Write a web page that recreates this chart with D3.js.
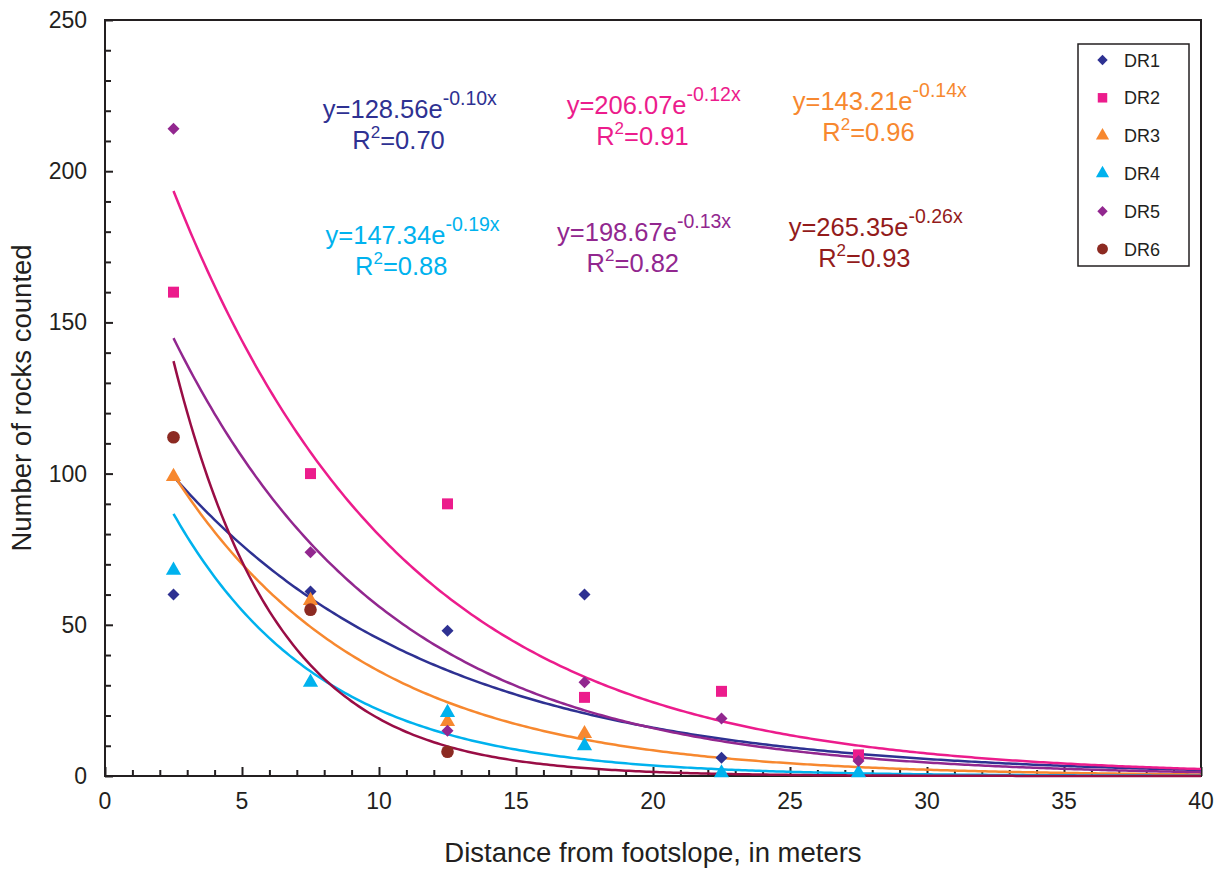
<!DOCTYPE html>
<html>
<head>
<meta charset="utf-8">
<script src="https://cdn.jsdelivr.net/npm/d3@7"></script>
<style>
  html, body { margin: 0; padding: 0; background: #fff; }
  svg text { font-family: "Liberation Sans", Arial, sans-serif; }
</style>
</head>
<body>
<svg id="chart" width="1218" height="869"></svg>
<script>
// Distance classes (m) where rocks were counted
const distances = [2.5, 7.5, 12.5, 17.5, 22.5, 27.5];

// Rock counts per transect (null = no count plotted)
const dr1 = [60, 61, 48, 60, 6, 6];
const dr2 = [160, 100, 90, 26, 28, 7];
const dr3 = [99, 58, 18, 14, null, null];
const dr4 = [68, 31, 21, 10, 1, 1];
const dr5 = [214, 74, 15, 31, 19, 5];
const dr6 = [112, 55, 8, null, null, null];

const seriesNames = ["DR1", "DR2", "DR3", "DR4", "DR5", "DR6"];

// Trendline equation labels
const eqCoef = ["128.56", "206.07", "143.21", "147.34", "198.67", "265.35"];
const eqExp = ["-0.10x", "-0.12x", "-0.14x", "-0.19x", "-0.13x", "-0.26x"];
const eqR2 = ["0.70", "0.91", "0.96", "0.88", "0.82", "0.93"];

// Axis ticks
const xTicks = [0, 5, 10, 15, 20, 25, 30, 35, 40];
const yTicks = [0, 50, 100, 150, 200, 250];

// Styling
const markerColor = ["#2E3192", "#EC1C8C", "#F7882F", "#00B2EE", "#92278F", "#8C2A22"];
const lineColor = ["#2E3192", "#EC1C8C", "#F7882F", "#00B2EE", "#92278F", "#990D45"];
const textColor = ["#2E3192", "#EC1C8C", "#F7882F", "#00B2EE", "#92278F", "#931B1B"];
const markerShape = [d3.symbolSquare, d3.symbolSquare, d3.symbolTriangle, d3.symbolTriangle, d3.symbolSquare, d3.symbolCircle];
const markerRotate = [45, 0, 0, 0, 45, 0];
const markerArea = [72, 120, 100, 100, 72, 125];

// Equation label anchors, in data units (left x of equation, baseline of equation)
const eqAnchor = [[7.95, 217.5], [16.85, 218.8], [25.1, 220.2], [8.05, 176], [16.5, 177], [24.95, 178.5]];

const series = [dr1, dr2, dr3, dr4, dr5, dr6];

const svg = d3.select("#chart");
const plotLeft = 105, plotRight = 1201, plotTop = 20, plotBottom = 776;

const x = d3.scaleLinear().domain([0, 40]).range([plotLeft, plotRight]);
const y = d3.scaleLinear().domain([0, 250]).range([plotBottom, plotTop]);

const ink = "#231F20";

// Exponential least-squares fit (log-linear), as used for trendlines
function fitExp(xs, ys) {
  const pts = xs.map((d, i) => [d, ys[i]]).filter(p => p[1] != null && p[1] > 0);
  const mx = d3.mean(pts, p => p[0]);
  const ml = d3.mean(pts, p => Math.log(p[1]));
  let sxy = 0, sxx = 0;
  pts.forEach(p => { sxy += (p[0] - mx) * (Math.log(p[1]) - ml); sxx += (p[0] - mx) ** 2; });
  const k = sxy / sxx;
  return { a: Math.exp(ml - k * mx), k };
}

// Plot frame
svg.append("rect")
  .attr("x", plotLeft).attr("y", plotTop)
  .attr("width", plotRight - plotLeft).attr("height", plotBottom - plotTop)
  .attr("fill", "none").attr("stroke", ink).attr("stroke-width", 2);

// Y axis: major ticks + minor ticks, inward
const yAxis = d3.axisRight(y).tickValues(yTicks).tickSize(8).tickFormat("");
const gy = svg.append("g").attr("transform", `translate(${plotLeft},0)`).call(yAxis);
const yMinor = d3.axisRight(y).tickValues(d3.range(0, 251, 10).filter(v => v % 50 !== 0)).tickSize(6).tickFormat("");
const gym = svg.append("g").attr("transform", `translate(${plotLeft},0)`).call(yMinor);
[gy, gym].forEach(g => { g.select(".domain").remove(); g.selectAll("line").attr("stroke", ink).attr("stroke-width", 2); });

svg.append("g").selectAll("text").data(yTicks).join("text")
  .attr("x", 87).attr("y", d => y(d) + 8)
  .attr("text-anchor", "end").attr("font-size", 23).attr("fill", ink)
  .text(d => d);

// X axis: major ticks + minor ticks, inward
const xAxis = d3.axisTop(x).tickValues(xTicks).tickSize(9).tickFormat("");
const gx = svg.append("g").attr("transform", `translate(0,${plotBottom})`).call(xAxis);
const xMinor = d3.axisTop(x).tickValues(d3.range(0, 41, 1).filter(v => v % 5 !== 0)).tickSize(6).tickFormat("");
const gxm = svg.append("g").attr("transform", `translate(0,${plotBottom})`).call(xMinor);
[gx, gxm].forEach(g => { g.select(".domain").remove(); g.selectAll("line").attr("stroke", ink).attr("stroke-width", 2); });

svg.append("g").selectAll("text").data(xTicks).join("text")
  .attr("x", d => x(d)).attr("y", 809)
  .attr("text-anchor", "middle").attr("font-size", 23).attr("fill", ink)
  .text(d => d);

// Axis titles
svg.append("text")
  .attr("x", 653).attr("y", 862)
  .attr("text-anchor", "middle").attr("font-size", 27.5).attr("fill", ink)
  .text("Distance from footslope, in meters");

svg.append("text")
  .attr("transform", `translate(31,398) rotate(-90)`)
  .attr("text-anchor", "middle").attr("font-size", 27.5).attr("fill", ink)
  .text("Number of rocks counted");

// Trendlines
const line = d3.line().x(d => x(d[0])).y(d => y(d[1]));
series.forEach((vals, i) => {
  const f = fitExp(distances, vals);
  const pts = d3.range(0, 301).map(j => {
    const xv = 2.5 + (40 - 2.5) * j / 300;
    return [xv, f.a * Math.exp(f.k * xv)];
  });
  svg.append("path").datum(pts)
    .attr("d", line)
    .attr("fill", "none").attr("stroke", lineColor[i]).attr("stroke-width", 2.5);
});

// Data markers
series.forEach((vals, i) => {
  const sym = d3.symbol().type(markerShape[i]).size(markerArea[i]);
  svg.append("g").selectAll("path")
    .data(distances.map((d, j) => [d, vals[j]]).filter(p => p[1] != null))
    .join("path")
    .attr("d", sym)
    .attr("transform", p => `translate(${x(p[0])},${y(p[1])}) rotate(${markerRotate[i]})`)
    .attr("fill", markerColor[i]);
});

// Equation labels
series.forEach((vals, i) => {
  const ax = x(eqAnchor[i][0]), ay = y(eqAnchor[i][1]);
  const t1 = svg.append("text").attr("x", ax).attr("y", ay)
    .attr("font-size", 25.5).attr("fill", textColor[i]);
  t1.append("tspan").text("y=" + eqCoef[i] + "e");
  t1.append("tspan").attr("font-size", 19.5).attr("dy", -13).text(eqExp[i]);

  const t2 = svg.append("text").attr("x", ax + 29.5).attr("y", ay + 31)
    .attr("font-size", 25.5).attr("fill", textColor[i]);
  t2.append("tspan").text("R");
  t2.append("tspan").attr("font-size", 17).attr("dy", -11).text("2");
  t2.append("tspan").attr("dy", 11).text("=" + eqR2[i]);
});

// Legend
const lg = svg.append("g");
lg.append("rect").attr("x", 1078).attr("y", 44).attr("width", 111).attr("height", 222)
  .attr("fill", "#fff").attr("stroke", ink).attr("stroke-width", 1.5);
seriesNames.forEach((name, i) => {
  const cy = 60 + i * 37.8;
  lg.append("path")
    .attr("d", d3.symbol().type(markerShape[i]).size(markerArea[i] * 0.75)())
    .attr("transform", `translate(1102.5,${cy}) rotate(${markerRotate[i]})`)
    .attr("fill", markerColor[i]);
  lg.append("text").attr("x", 1124).attr("y", cy + 6.5)
    .attr("font-size", 18).attr("fill", ink).text(name);
});
</script>
</body>
</html>
